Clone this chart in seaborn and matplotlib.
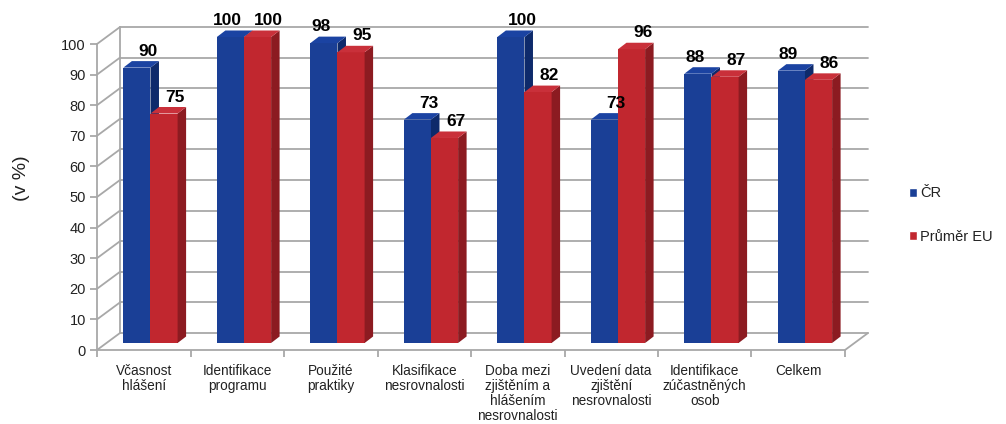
import numpy as np
import pandas as pd
import matplotlib
matplotlib.use("Agg")
import matplotlib.pyplot as plt
from matplotlib.patches import Polygon, Patch
import seaborn as sns

# ---- data ----
categories = [
    "Včasnost\nhlášení",
    "Identifikace\nprogramu",
    "Použité\npraktiky",
    "Klasifikace\nnesrovnalosti",
    "Doba mezi\nzjištěním a\nhlášením\nnesrovnalosti",
    "Uvedení data\nzjištění\nnesrovnalosti",
    "Identifikace\nzúčastněných\nosob",
    "Celkem",
]
cr_values = [90, 100, 98, 73, 100, 73, 88, 89]
eu_values = [75, 100, 95, 67, 82, 96, 87, 86]
series_names = ["ČR", "Průměr EU"]
y_ticks = list(range(0, 101, 10))

df = pd.DataFrame({
    "kategorie": categories * 2,
    "hodnota": cr_values + eu_values,
    "serie": [series_names[0]] * len(categories) + [series_names[1]] * len(categories),
})

# ---- style ----
sns.set_theme(style="white")
plt.rcParams["font.family"] = ["Liberation Sans", "DejaVu Sans"]

FRONT = ["#1A3F96", "#C1272F"]
SIDE = ["#0E2A6B", "#8C1B21"]
TOP = ["#1B43A2", "#C9303A"]
GRID = "#a8a8a8"
TEXT = "#222222"

W, H = 1006, 424
fig = plt.figure(figsize=(W / 100, H / 100), dpi=100)
# front plane of the 3-D box
ax = fig.add_axes([97 / W, 74 / H, 748 / W, 306 / H])

sns.barplot(data=df, x="kategorie", y="hodnota", hue="serie",
            order=categories, hue_order=series_names,
            palette=FRONT, saturation=1, width=0.58, errorbar=None,
            legend=False, ax=ax)

xl, xr = -0.5, len(categories) - 0.5
ax.set_xlim(xl, xr)
ax.set_ylim(0, 100)

# oblique projection: pixel sizes converted to data units
px_x = 748 / len(categories)
px_y = 306 / 100
DX, DY = 23 / px_x, 17 / px_y          # depth of the whole box
BDX, BDY = 8.5 / px_x, 6.5 / px_y      # depth of a single column
SHIFT_X, SHIFT_Y = 0.072, 7 / px_y     # columns sit inside the box

# walls and floor
lw = 1.3
for t in y_ticks:
    ax.plot([xl + DX, xr + DX], [t + DY, t + DY], color=GRID, lw=lw, clip_on=False, zorder=1)
    ax.plot([xl, xl + DX], [t, t + DY], color=GRID, lw=lw, clip_on=False, zorder=1)
ax.plot([xl + DX, xl + DX], [DY, 100 + DY], color=GRID, lw=lw, clip_on=False, zorder=1)
ax.plot([xr, xr + DX], [0, DY], color=GRID, lw=lw, clip_on=False, zorder=1)

# 3-D columns built on the seaborn bars
label_pos = {}
for j, cont in enumerate(ax.containers):
    for i, bar in enumerate(cont):
        x0 = bar.get_x() + SHIFT_X
        w = bar.get_width()
        h = bar.get_height()
        bar.set_x(x0)
        bar.set_y(SHIFT_Y)
        bar.set_zorder(3 + j)
        bar.set_clip_on(False)
        bar.set_edgecolor("none")
        x1 = x0 + w
        y0, y1 = SHIFT_Y, SHIFT_Y + h
        side = Polygon([(x1, y0), (x1 + BDX, y0 + BDY), (x1 + BDX, y1 + BDY), (x1, y1)],
                       closed=True, facecolor=SIDE[j], edgecolor="none",
                       zorder=3.2 + j, clip_on=False)
        top = Polygon([(x0, y1), (x1, y1), (x1 + BDX, y1 + BDY), (x0 + BDX, y1 + BDY)],
                      closed=True, facecolor=TOP[j], edgecolor="none",
                      zorder=3.2 + j, clip_on=False)
        ax.add_patch(side)
        ax.add_patch(top)
        label_pos[(i, j)] = (x0 + w / 2, y1 + BDY + 5.5 / px_y, h)

# value labels, pushed apart when a pair would overlap
for i in range(len(categories)):
    close = abs(label_pos[(i, 0)][2] - label_pos[(i, 1)][2]) < 5
    for j in range(2):
        xc, yc, h = label_pos[(i, j)]
        off = 11 if not close else (-3 if j == 0 else 11)
        ax.text(xc + off / px_x, yc, f"{h:.0f}",
                ha="center", va="baseline", fontsize=12.5, fontweight="bold",
                color="black", zorder=10, clip_on=False)

# axes lines and ticks
for s in ["top", "right"]:
    ax.spines[s].set_visible(False)
for s in ["left", "bottom"]:
    ax.spines[s].set_color(GRID)
    ax.spines[s].set_linewidth(lw)
ax.set_yticks(y_ticks)
ax.set_yticklabels([str(t) for t in y_ticks], fontsize=10.5, color=TEXT)
ax.tick_params(axis="y", direction="out", length=5, width=lw, color=GRID, pad=3, left=True)
ax.set_xticks(range(len(categories)))
ax.set_xticklabels(categories, fontsize=9.8, color=TEXT, linespacing=1.08)
ax.tick_params(axis="x", which="major", length=0, pad=10)
ax.set_xticks(np.arange(xl, xr + 0.01, 1.0), minor=True)
ax.tick_params(axis="x", which="minor", direction="out", length=5, width=lw, color=GRID, bottom=True)
ax.set_xlabel("")
ax.set_ylabel("")
ax.grid(False)

fig.text(21 / W, 1 - 178 / H, "(v %)", rotation=90, ha="center", va="center",
         fontsize=14, color=TEXT)

handles = [Patch(facecolor=FRONT[0]), Patch(facecolor=FRONT[1])]
fig.legend(handles, series_names, loc="center left",
           bbox_to_anchor=(896 / W, 1 - 215 / H), frameon=False,
           handlelength=0.55, handleheight=0.55, handletextpad=0.2,
           labelspacing=2.0, fontsize=10.5, labelcolor=TEXT)

fig.savefig("out.png", dpi=100)
